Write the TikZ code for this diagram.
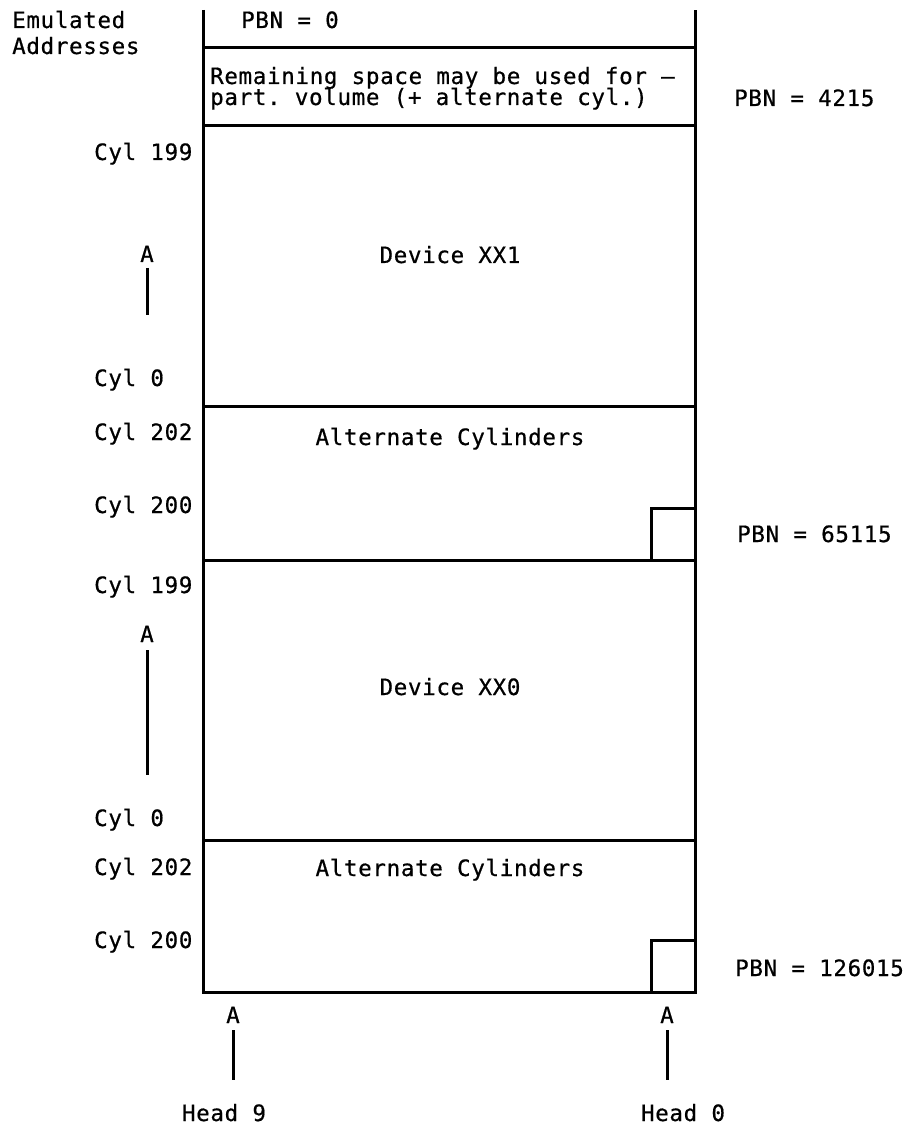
\documentclass[tikz,border=0pt]{standalone}
\usepackage{fontspec}
\setmonofont[FakeBold=0.6,LetterSpace=3]{DejaVu Sans Mono}
\begin{document}
\begin{tikzpicture}[x=1pt,y=-1pt,
  lbl/.style={inner sep=0pt,anchor=base west,font=\ttfamily\fontsize{22.5}{26}\selectfont},
  ctr/.style={inner sep=0pt,anchor=base,font=\ttfamily\fontsize{22.5}{26}\selectfont},
  frame/.style={line width=3pt},
  tick/.style={line width=3pt}]
\useasboundingbox (0,0) rectangle (910,1131);
% frame
\draw[frame] (203,10) -- (203,992) -- (695,992) -- (695,10);
\foreach \yy in {48,126,406,560,840} \draw[frame] (203,\yy) -- (695,\yy);
\draw[frame] (651,560) -- (651,508) -- (695,508);
\draw[frame] (651,992) -- (651,940) -- (695,940);
% top labels
\node[lbl] (em1) at (12,28) {Emulated};
\node[lbl] (em2) at (12,54) {Addresses};
\node[lbl] (pbn0) at (241,28) {PBN = 0};
\node[lbl] (rem1) at (210,84) {Remaining space may be used for –};
\node[lbl] (rem2) at (210,105) {part. volume (+ alternate cyl.)};
\node[lbl] (pbn1) at (734,106) {PBN = 4215};
\node[lbl] (pbn2) at (737,542) {PBN = 65115};
\node[lbl] (pbn3) at (735,976) {PBN = 126015};
% left labels
\node[lbl] (c1) at (94,160) {Cyl 199};
\node[lbl] (c2) at (94,386) {Cyl 0};
\node[lbl] (c3) at (94,440) {Cyl 202};
\node[lbl] (c4) at (94,513) {Cyl 200};
\node[lbl] (c5) at (94,593) {Cyl 199};
\node[lbl] (c6) at (94,826) {Cyl 0};
\node[lbl] (c7) at (94,875) {Cyl 202};
\node[lbl] (c8) at (94,948) {Cyl 200};
% centre labels
\node[ctr] (d1) at (450,263) {Device XX1};
\node[ctr] (a1) at (450,445) {Alternate Cylinders};
\node[ctr] (d0) at (450,695) {Device XX0};
\node[ctr] (a0) at (450,876) {Alternate Cylinders};
% A markers
\node[ctr] (A1) at (147,262) {A};
\coordinate (A1e) at (147,315);
\draw[tick] (147,268) -- (A1e);
\node[ctr] (A2) at (147,642) {A};
\coordinate (A2e) at (147,775);
\draw[tick] (147,650) -- (A2e);
\node[ctr] (A3) at (233,1023) {A};
\coordinate (A3e) at (233,1080);
\draw[tick] (233,1030) -- (A3e);
\node[ctr] (A4) at (667,1023) {A};
\coordinate (A4e) at (667,1080);
\draw[tick] (667,1030) -- (A4e);
\node[ctr] (h9) at (224,1121) {Head 9};
\node[ctr] (h0) at (683,1121) {Head 0};
\end{tikzpicture}
\end{document}
